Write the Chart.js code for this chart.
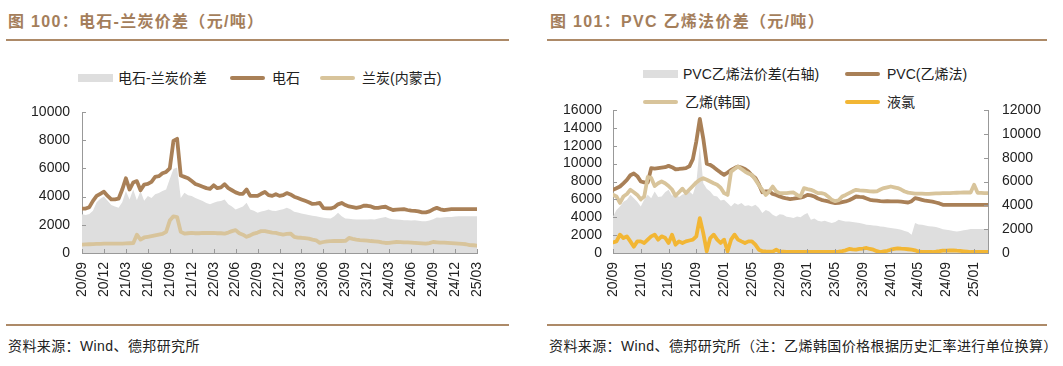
<!DOCTYPE html>
<html>
<head>
<meta charset="utf-8">
<script src="https://cdn.jsdelivr.net/npm/chart.js@4.4.1/dist/chart.umd.min.js"></script>
<style>
    body { margin: 0; background: #fff; }
    #page { position: relative; width: 1063px; height: 366px; overflow: hidden;
        font-family: "Liberation Sans", "Noto Sans CJK SC", sans-serif; color: #222; }
    .title { position: absolute; top: 12px; font-size: 16px; line-height: 20px; font-weight: bold;
        color: #A47E5B; letter-spacing: 1.3px; white-space: nowrap; }
    .rule { position: absolute; height: 2px; background: #AD8A68; }
    .source { position: absolute; top: 337px; font-size: 14px; line-height: 18px; white-space: nowrap;
        letter-spacing: 0.4px; color: #222; }
    .lg { position: absolute; font-size: 14px; line-height: 18px; white-space: nowrap; color: #222; }
    .sw-box { position: absolute; width: 35px; height: 8px; background: #DEDEDE; }
    .sw-line { position: absolute; width: 35px; height: 4px; border-radius: 2px; }
    canvas { position: absolute; top: 0; }
</style>
</head>
<body>
<div id="page">
    <div class="title" style="left:8px">图 100：电石-兰炭价差（元/吨）</div>
    <div class="rule" style="left:6px; width:503px; top:39px"></div>
    <div class="title" style="left:550px">图 101：PVC 乙烯法价差（元/吨）</div>
    <div class="rule" style="left:547px; width:500px; top:39px"></div>

    <!-- left legend -->
    <div class="sw-box" style="left:78px; top:74px"></div>
    <div class="lg" style="left:118px; top:69px">电石-兰炭价差</div>
    <div class="sw-line" style="left:230px; top:76px; background:#A98057"></div>
    <div class="lg" style="left:272px; top:69px">电石</div>
    <div class="sw-line" style="left:320px; top:76px; background:#D8C49B"></div>
    <div class="lg" style="left:362px; top:69px">兰炭(内蒙古)</div>

    <!-- right legend -->
    <div class="sw-box" style="left:643px; top:70px"></div>
    <div class="lg" style="left:683px; top:65px">PVC乙烯法价差(右轴)</div>
    <div class="sw-line" style="left:845px; top:72px; background:#A98057"></div>
    <div class="lg" style="left:887px; top:65px">PVC(乙烯法)</div>
    <div class="sw-line" style="left:643px; top:100px; background:#D8C49B"></div>
    <div class="lg" style="left:685px; top:93px">乙烯(韩国)</div>
    <div class="sw-line" style="left:845px; top:100px; background:#F2B634"></div>
    <div class="lg" style="left:887px; top:93px">液氯</div>

    <canvas id="left-chart" width="530" height="310" style="left:0"></canvas>
    <canvas id="right-chart" width="533" height="310" style="left:530px"></canvas>

    <div class="rule" style="left:6px; width:503px; top:324px"></div>
    <div class="rule" style="left:547px; width:500px; top:324px"></div>
    <div class="source" style="left:8px">资料来源：Wind、德邦研究所</div>
    <div class="source" style="left:549px">资料来源：Wind、德邦研究所（注：乙烯韩国价格根据历史汇率进行单位换算）</div>
</div>

<script>
// x positions: months since 2020/09, half-month steps (0 .. 54)
const months = [];
for (let i = 0; i <= 108; i++) months.push(i / 2);

const leftTickLabels = ['20/09', '20/12', '21/03', '21/06', '21/09', '21/12', '22/03', '22/06', '22/09', '22/12',
    '23/03', '23/06', '23/09', '23/12', '24/03', '24/06', '24/09', '24/12', '25/03'];
const rightTickLabels = ['20/09', '21/01', '21/05', '21/09', '22/01', '22/05', '22/09', '23/01', '23/05', '23/09',
    '24/01', '24/05', '24/09', '25/01'];

// 电石
const carbide = [
    3150, 3150, 3250, 3700, 4050, 4200, 4350, 4050, 3800, 3800, 3850, 4500,
    5300, 4500, 5000, 5100, 4450, 4850, 4900, 5050, 5400, 5450, 5650, 5750,
    6000, 7950, 8100, 5500, 5400, 5300, 5100, 4900, 4800, 4700, 4600, 4550,
    4800, 4600, 4650, 4880, 4600, 4450, 4300, 4200, 4200, 4500, 4050, 4050,
    4050, 4200, 4330, 4100, 4050, 4170, 4050, 4100, 4250, 4150, 3990, 3900,
    3800, 3700, 3600, 3480, 3500, 3550, 3180, 3160, 3160, 3250, 3450, 3550,
    3400, 3300, 3250, 3200, 3250, 3350, 3350, 3300, 3200, 3200, 3250, 3280,
    3150, 3050, 3080, 3100, 3110, 3050, 3000, 2990, 2950, 2880, 2880, 2950,
    3100, 3200, 3100, 3040, 3080, 3110, 3110, 3110, 3110, 3110, 3110, 3110,
    3110
];

// 兰炭(内蒙古)
const semiCoke = [
    600, 610, 620, 630, 640, 650, 660, 660, 670, 670, 670, 670,
    680, 690, 700, 1300, 950, 1100, 1150, 1200, 1250, 1300, 1350, 1500,
    2300, 2600, 2550, 1500, 1380, 1400, 1420, 1400, 1400, 1420, 1420, 1430,
    1420, 1400, 1400, 1380, 1450, 1550, 1620, 1400, 1300, 1150, 1250, 1380,
    1450, 1550, 1550, 1500, 1450, 1430, 1350, 1310, 1350, 1380, 1150, 1090,
    1080, 1050, 1020, 950, 900, 720, 780, 830, 840, 850, 850, 850,
    855, 1070, 1000, 950, 920, 900, 880, 850, 830, 800, 750, 710,
    720, 760, 780, 770, 760, 750, 740, 720, 700, 680, 665, 700,
    780, 760, 740, 740, 720, 700, 680, 665, 650, 620, 560, 550,
    520
];

// 电石-兰炭价差
const carbideSpread = [
    2740, 2700, 2760, 3000, 3600, 3850, 4000, 3700, 3400, 3300, 3210, 3600,
    4400, 3800, 4500, 3750, 4400, 3700, 4050, 3900, 4160, 4250, 4400, 4500,
    5240, 5950, 6070, 3900, 4280, 4100, 4050, 3900, 3800, 3690, 3550, 3450,
    3570, 3650, 3690, 3800, 3450, 3300, 3090, 3200, 3300, 3570, 3090, 3000,
    2860, 2950, 3000, 3090, 3000, 2980, 3050, 3100, 3210, 3100, 2920, 2880,
    2800, 2750, 2700, 2650, 2600, 2560, 2500, 2470, 2450, 2600, 2850, 2600,
    2450, 2430, 2400, 2370, 2370, 2380, 2370, 2400, 2370, 2450, 2500, 2560,
    2450, 2400, 2370, 2350, 2330, 2330, 2300, 2320, 2280, 2260, 2260, 2300,
    2400, 2520, 2500, 2540, 2560, 2550, 2580, 2600, 2610, 2610, 2610, 2610,
    2610
];

// PVC(乙烯法)
const pvc = [
    7070, 7250, 7440, 7800, 8180, 8700, 8900, 8600, 8000, 7900, 7890, 9500,
    9450, 9500, 9550, 9600, 9750, 9600, 9370, 9400, 9450, 9500, 9700, 10500,
    12500, 15000, 12800, 10000, 9860, 9600, 9300, 9000, 8740, 9000, 9300, 9500,
    9670, 9550, 9400, 9110, 8700, 8400, 7700, 6800, 6900, 6900, 6600, 6500,
    6320, 6200, 6100, 6030, 6080, 6140, 6200, 6300, 6510, 6450, 6320, 6100,
    5950, 5850, 5770, 5650, 5580, 5620, 5700, 5770, 5900, 6100, 6320, 6280,
    6250, 6100, 5950, 5900, 5850, 5800, 5770, 5800, 5770, 5780, 5770, 5750,
    5700, 5650, 5800, 6140, 6050, 5950, 5850, 5800, 5750, 5650, 5550, 5390,
    5390, 5390, 5390, 5390, 5390, 5390, 5390, 5390, 5390, 5390, 5390, 5390,
    5390
];

// 乙烯(韩国)
const ethylene = [
    6510, 6320, 5600, 6320, 6600, 7070, 6800, 6500, 6000, 6320, 8500, 8400,
    7500, 7800, 8000, 7800, 7500, 7100, 6400, 6800, 7200, 6700, 7100, 7500,
    7900, 8200, 8370, 8200, 8000, 7800, 7630, 7300, 6700, 6500, 9100, 9400,
    9670, 9400, 9110, 8900, 8740, 8200, 7600, 7070, 6500, 6900, 7440, 6900,
    6700, 6700, 6700, 6750, 6770, 6500, 6320, 7260, 7150, 7070, 6900, 6700,
    6700, 6600, 6300, 5950, 5800, 5900, 6320, 6500, 6700, 6900, 7070, 7000,
    6980, 6950, 6900, 6880, 6900, 7100, 7260, 7350, 7440, 7350, 7260, 7100,
    6880, 6750, 6700, 6650, 6650, 6640, 6620, 6620, 6640, 6660, 6680, 6700,
    6700, 6700, 6720, 6740, 6760, 6770, 6770, 6770, 7630, 6740, 6720, 6700,
    6700
];

// 液氯
const chlorine = [
    1190, 1300, 2050, 1670, 1860, 1300, 700, 1300, 1300, 1120, 1500, 1860,
    2050, 1490, 1860, 1700, 1120, 2050, 930, 1300, 1120, 1300, 1400, 1490,
    1860, 3900, 2230, 190, 1670, 2050, 1500, 1120, 1490, 190, 1490, 2050,
    1500, 1300, 1120, 1300, 1300, 930, 370, 190, 170, 160, 150, 370,
    150, 140, 130, 120, 110, 110, 110, 110, 110, 110, 110, 110,
    110, 110, 110, 110, 120, 150, 220, 300, 450, 400, 370, 450,
    500, 560, 450, 370, 200, 110, 190, 250, 370, 450, 520, 480,
    450, 420, 370, 300, 150, 120, 110, 110, 110, 150, 200, 260,
    260, 280, 300, 260, 230, 190, 150, 110, 110, 110, 110, 110,
    110
];

// PVC乙烯法价差(右轴)
const pvcSpread = [
    3070, 3600, 3900, 4300, 4460, 4880, 4600, 4300, 3900, 4500, 4880, 4600,
    5160, 4700, 4740, 5100, 5300, 4800, 5020, 4700, 4900, 5000, 5160, 4900,
    5860, 9000, 5860, 5400, 5160, 4800, 4740, 4400, 4460, 4200, 3900, 4190,
    4050, 4190, 3950, 4000, 3900, 4050, 3800, 3350, 3600, 3490, 3200, 3070,
    3250, 3210, 3050, 3000, 2930, 3070, 3000, 3200, 3350, 2790, 2900, 2700,
    2650, 2700, 2600, 2510, 2600, 2790, 2700, 2650, 2650, 2600, 2550, 2510,
    2450, 2370, 2350, 2300, 2280, 2230, 2200, 2150, 2100, 2050, 2010, 1950,
    1850, 1760, 1530, 2510, 2400, 2370, 2300, 2250, 2230, 2180, 2100, 2000,
    1950, 1900, 1850, 1810, 1850, 1900, 1950, 2010, 2010, 2010, 2010, 2010,
    2010
];

const COLORS = {
    brown: '#A98057',
    tan: '#D8C49B',
    orange: '#F2B634',
    gray: '#DEDEDE',
    axis: '#999999',
    text: '#222222'
};
const FONT = { family: '"Liberation Sans", Arial, sans-serif', size: 14 };

function toPoints(values) {
    return values.map((v, i) => ({ x: months[i], y: v }));
}

function lineSet(label, values, color, yAxisID, order) {
    return {
        label: label,
        data: toPoints(values),
        borderColor: color,
        borderWidth: 3.8,
        pointRadius: 0,
        tension: 0,
        fill: false,
        borderJoinStyle: 'round',
        borderCapStyle: 'round',
        yAxisID: yAxisID,
        order: order
    };
}

function areaSet(label, values, yAxisID) {
    return {
        label: label,
        data: toPoints(values),
        borderWidth: 0,
        borderColor: COLORS.gray,
        backgroundColor: COLORS.gray,
        pointRadius: 0,
        tension: 0,
        fill: 'origin',
        yAxisID: yAxisID,
        order: 10
    };
}

// short tick marks pointing into the plot area
const innerTicks = {
    id: 'innerTicks',
    afterDraw(chart) {
        const ctx = chart.ctx;
        const area = chart.chartArea;
        ctx.save();
        ctx.strokeStyle = COLORS.axis;
        ctx.lineWidth = 1;
        Object.values(chart.scales).forEach(scale => {
            scale.ticks.forEach(t => {
                const p = Math.round(scale.getPixelForValue(t.value)) + 0.5;
                ctx.beginPath();
                if (scale.axis === 'x') {
                    ctx.moveTo(p, area.bottom);
                    ctx.lineTo(p, area.bottom - 4);
                } else if (scale.position === 'left') {
                    ctx.moveTo(area.left, p);
                    ctx.lineTo(area.left + 4, p);
                } else {
                    ctx.moveTo(area.right, p);
                    ctx.lineTo(area.right - 4, p);
                }
                ctx.stroke();
            });
        });
        ctx.restore();
    }
};

function xAxis(step, tickLabels) {
    return {
        type: 'linear',
        min: 0,
        max: 54,
        grid: { display: false, drawTicks: false },
        border: { display: true, color: COLORS.axis, width: 1 },
        ticks: {
            stepSize: step,
            includeBounds: false,
            autoSkip: false,
            minRotation: 90,
            maxRotation: 90,
            padding: 9,
            color: COLORS.text,
            font: FONT,
            callback: (v) => tickLabels[Math.round(v / step)] || ''
        },
        afterFit: (scale) => { scale.height = 57; }
    };
}

function yAxis(position, max, width, pad) {
    return {
        type: 'linear',
        position: position,
        min: 0,
        max: max,
        grid: { display: false, drawTicks: false },
        border: { display: true, color: COLORS.axis, width: 1 },
        ticks: {
            stepSize: 2000,
            autoSkip: false,
            padding: pad,
            color: COLORS.text,
            font: FONT,
            callback: (v) => String(v)
        },
        afterFit: (scale) => { scale.width = width; }
    };
}

function baseOptions(padding, scales) {
    return {
        responsive: false,
        animation: false,
        layout: { padding: padding },
        plugins: { legend: { display: false }, tooltip: { enabled: false } },
        scales: scales
    };
}

function drawLeftChart() {
    new Chart(document.getElementById('left-chart'), {
        type: 'line',
        data: {
            datasets: [
                areaSet('电石-兰炭价差', carbideSpread, 'y'),
                lineSet('电石', carbide, COLORS.brown, 'y', 1),
                lineSet('兰炭(内蒙古)', semiCoke, COLORS.tan, 'y', 0)
            ]
        },
        options: baseOptions({ top: 112, right: 53, left: 0, bottom: 0 }, {
            x: xAxis(3, leftTickLabels),
            y: yAxis('left', 10000, 82, 12)
        }),
        plugins: [innerTicks]
    });
}

function drawRightChart() {
    new Chart(document.getElementById('right-chart'), {
        type: 'line',
        data: {
            datasets: [
                areaSet('PVC乙烯法价差(右轴)', pvcSpread, 'y2'),
                lineSet('PVC(乙烯法)', pvc, COLORS.brown, 'y', 2),
                lineSet('乙烯(韩国)', ethylene, COLORS.tan, 'y', 1),
                lineSet('液氯', chlorine, COLORS.orange, 'y', 0)
            ]
        },
        options: baseOptions({ top: 110, right: 0, left: 0, bottom: 0 }, {
            x: xAxis(4, rightTickLabels),
            y: yAxis('left', 16000, 83, 11),
            y2: yAxis('right', 12000, 75, 14)
        }),
        plugins: [innerTicks]
    });
}

drawLeftChart();
drawRightChart();
</script>
</body>
</html>
